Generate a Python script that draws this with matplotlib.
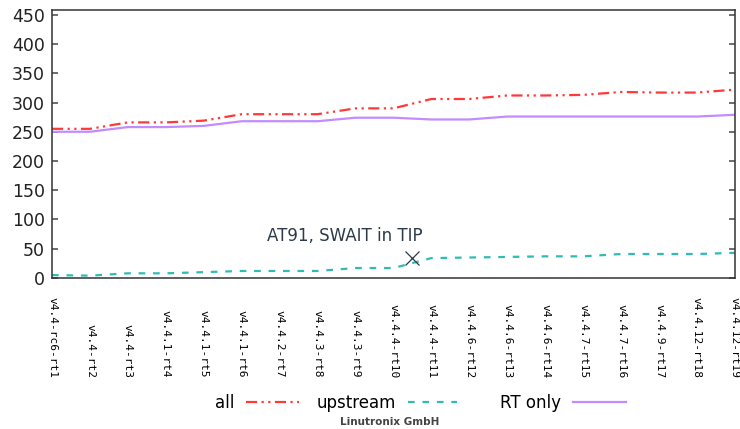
import matplotlib
matplotlib.use("Agg")
import matplotlib.pyplot as plt

versions = ["v4.4-rc6-rt1", "v4.4-rt2", "v4.4-rt3", "v4.4.1-rt4", "v4.4.1-rt5",
            "v4.4.1-rt6", "v4.4.2-rt7", "v4.4.3-rt8", "v4.4.3-rt9", "v4.4.4-rt10",
            "v4.4.4-rt11", "v4.4.6-rt12", "v4.4.6-rt13", "v4.4.6-rt14", "v4.4.7-rt15",
            "v4.4.7-rt16", "v4.4.9-rt17", "v4.4.12-rt18", "v4.4.12-rt19"]
all_patches = [255, 255, 266, 266, 269, 280, 280, 280, 290, 290,
               306, 306, 312, 312, 313, 318, 317, 317, 322]
upstream = [5, 4, 8, 8, 10, 12, 12, 12, 17, 17,
            34, 35, 36, 37, 37, 41, 41, 41, 43]
rt_only = [250, 250, 258, 258, 260, 268, 268, 268, 274, 274,
           271, 271, 276, 276, 276, 276, 276, 276, 279]
annot_text = "AT91, SWAIT in TIP"
annot_point = (9.5, 34)

fig = plt.figure(figsize=(7.4, 4.29), dpi=100)
ax = fig.add_axes([0.0703, 0.352, 0.9227, 0.6245])
x = list(range(len(versions)))

l1, = ax.plot(x, all_patches, color="#ff3838", lw=1.6,
              linestyle=(0, (5, 2, 1, 2, 1, 2)), label="all")
l2, = ax.plot(x, upstream, color="#2ebcb4", lw=1.6,
              linestyle=(0, (3, 3.5)), label="upstream")
l3, = ax.plot(x, rt_only, color="#c28cff", lw=1.6, label="RT only")

ax.plot([annot_point[0]], [annot_point[1]], marker="x", markersize=10,
        color="#2c3a4a", mew=0.9, linestyle="none")
ax.text(7.72, 72, annot_text, fontsize=12, color="#2c3a4a",
        ha="center", va="center")

ax.set_xlim(0, len(versions) - 1)
ax.set_ylim(0, 458)
ax.set_yticks(range(0, 451, 50))
ax.set_xticks(x)
ax.set_xticklabels(versions, family="DejaVu Sans Mono", fontsize=8)
for lab in ax.get_xticklabels():
    lab.set_rotation(-90)
    lab.set_rotation_mode("anchor")
    lab.set_ha("right")
    lab.set_va("center")
ax.tick_params(axis="x", length=0, pad=72)
ax.tick_params(axis="y", direction="in", length=4.3, width=1.2, color="#555555",
               labelsize=12.5, labelcolor="#222222", pad=5, right=True)
for s in ax.spines.values():
    s.set_color("#333333")
    s.set_linewidth(1.1)

for handle, xpos, hl in [(l1, 0.2905, 3.15), (l2, 0.4284, 2.9), (l3, 0.6757, 3.15)]:
    fig.legend(handles=[handle], loc="center left", bbox_to_anchor=(xpos, 0.0606),
               frameon=False, markerfirst=False, fontsize=12, borderpad=0,
               borderaxespad=0, handlelength=hl, handletextpad=0.72)

fig.text(0.527, 0.016, "Linutronix GmbH", fontsize=7.5, fontweight="bold",
         color="#444444", ha="center", va="center")

fig.savefig("out.png", dpi=100)
